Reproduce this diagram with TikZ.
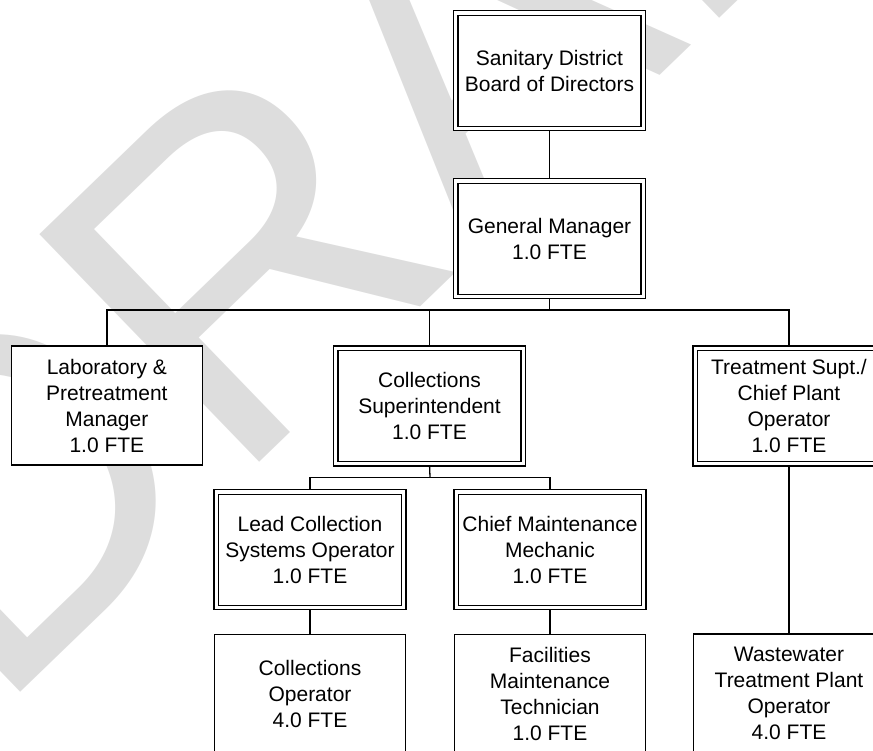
\documentclass[tikz,border=0pt]{standalone}
\usepackage{fontspec}
\setmainfont{Liberation Sans}
\definecolor{wmgray}{RGB}{221,221,221}
\pgfdeclarelayer{watermark}
\pgfdeclarelayer{links}
\pgfsetlayers{watermark,links,main}
\begin{document}
\begin{tikzpicture}[x=1pt,y=1pt,
  unit/.style={draw=black, fill=white, line width=1.3pt,
    minimum width=191.5pt, minimum height=119pt,
    inner sep=0pt, outer sep=0pt, align=center,
    font=\fontsize{21}{26}\selectfont},
  lead/.style={unit, line width=1.2pt, double=white, double distance=3.4pt,
    minimum width=187.5pt, minimum height=115.5pt},
  link/.style={line width=1.3pt}]
\useasboundingbox (0,0) rectangle (873,-751);

% diagonal watermark behind the chart
\begin{pgfonlayer}{watermark}
  \node[anchor=base west, rotate=44, inner sep=0pt, text=wmgray,
        font=\fontsize{460}{460}\selectfont] (wm) at (-6.6,-719) {DRAFT};
\end{pgfonlayer}

% positions
\node[lead] (board) at (549.5,-70.7)  {Sanitary District\\Board of Directors};
\node[lead] (gm)    at (549.5,-238.7) {General Manager\\1.0 FTE};
\node[unit] (lab)   at (106.9,-405.5) {Laboratory \&\\Pretreatment\\Manager\\1.0 FTE};
\node[lead] (cs)    at (429.5,-406)   {Collections\\Superintendent\\1.0 FTE};
\node[lead] (tsup)  at (789,-406)     {Treatment Supt./\\Chief Plant\\Operator\\1.0 FTE};
\node[lead] (lcso)  at (310,-549.7)   {Lead Collection\\Systems Operator\\1.0 FTE};
\node[lead] (cmm)   at (550,-549.7)   {Chief Maintenance\\Mechanic\\1.0 FTE};
\node[unit] (cop)   at (310,-694)     {Collections\\Operator\\4.0 FTE};
\node[unit] (fmt)   at (550,-694)     {Facilities\\Maintenance\\Technician\\1.0 FTE};
\node[unit] (wtp)   at (789,-693.5)   {Wastewater\\Treatment Plant\\Operator\\4.0 FTE};

\coordinate (bus) at (549.5,-310);
\coordinate (sub) at (430,-477.3);

% reporting lines
\begin{pgfonlayer}{links}
  \draw[link] (board.south) -- (gm.north);
  \draw[link] (gm.south) -- (bus);
  \draw[link] (lab.north) |- (bus) -| (tsup.north);
  \draw[link] (cs.north) -- (cs.north |- bus);
  \draw[link] (cs.south) -- (sub);
  \draw[link] (lcso.north) |- (sub) -| (cmm.north);
  \draw[link] (lcso.south) -- (cop.north);
  \draw[link] (cmm.south) -- (fmt.north);
  \draw[link] (tsup.south) -- (wtp.north);
\end{pgfonlayer}
\end{tikzpicture}
\end{document}
